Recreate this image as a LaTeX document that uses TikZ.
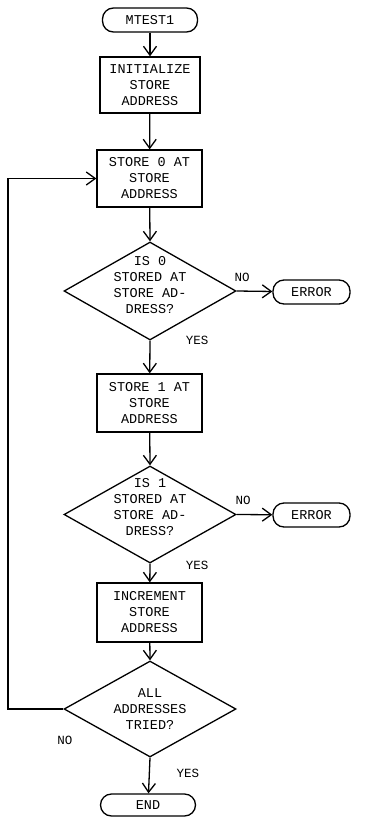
\documentclass[tikz,border=0pt]{standalone}
\usepackage{fontspec}
\setmonofont{Liberation Mono}
\usetikzlibrary{shapes.geometric,arrows.meta}
\begin{document}
\begin{tikzpicture}[x=1pt,y=-1pt,
 every node/.style={font=\ttfamily\fontsize{13.5}{16}\selectfont},
 term/.style={draw, line width=1.3pt, rounded corners=11pt, minimum width=95pt, minimum height=24pt, inner sep=0pt},
 procbox/.style={draw, line width=1.3pt, minimum width=105pt, minimum height=57pt, inner sep=0pt, align=center},
 decis/.style={draw, diamond, line width=1.3pt, minimum width=172pt, minimum height=98pt, inner sep=0pt},
 dtext/.style={align=center, inner sep=0pt},
 lbl/.style={inner sep=0pt, font=\ttfamily\fontsize{12.5}{14}\selectfont},
 flow/.style={line width=1.3pt, -{Straight Barb[length=9pt,width=13pt,line width=1.3pt]}}
]
\useasboundingbox (0,0) rectangle (365,817);
\node[term] (start) at (150,20) {MTEST1};
\node[procbox, minimum width=100pt, minimum height=56pt] (init) at (150,85) {INITIALIZE\\STORE\\ADDRESS};
\node[procbox] (st0) at (149.5,178.5) {STORE 0 AT\\STORE\\ADDRESS};
\node[decis] (d1) at (150,291) {};
\node[dtext] (t1) at (150,285) {IS 0\\STORED AT\\STORE AD-\\DRESS?};
\node[term, minimum width=77pt] (err1) at (311.5,292) {ERROR};
\node[procbox, minimum height=58pt] (st1) at (149.5,403) {STORE 1 AT\\STORE\\ADDRESS};
\node[decis, minimum height=97pt] (d2) at (150,514.5) {};
\node[dtext] (t2) at (150,507) {IS 1\\STORED AT\\STORE AD-\\DRESS?};
\node[term, minimum width=77pt] (err2) at (311.5,515) {ERROR};
\node[procbox, minimum height=59pt] (inc) at (149.5,612.5) {INCREMENT\\STORE\\ADDRESS};
\node[decis, minimum height=96pt] (d3) at (150,709) {};
\node[dtext] (t3) at (150,709) {ALL\\ADDRESSES\\TRIED?};
\node[term, minimum height=22pt] (end) at (148,805) {END};
\coordinate (lp) at (8,709);
\draw[flow] (start) -- (init);
\draw[flow] (init) -- (st0);
\draw[flow] (st0) -- (d1.north);
\draw[flow] (d1.east) -- (err1);
\draw[flow] (d1.south) -- (st1);
\draw[flow] (st1) -- (d2.north);
\draw[flow] (d2.east) -- (err2);
\draw[flow] (d2.south) -- (inc);
\draw[flow] (inc) -- (d3.north);
\draw[flow] (d3.south) -- (end);
\draw[flow] (d3.west) -- (lp) |- (st0.west);
\node[lbl] (n1) at (242,277) {NO};
\node[lbl] (y1) at (197,340) {YES};
\node[lbl] (n2) at (243,500) {NO};
\node[lbl] (y2) at (197,565) {YES};
\node[lbl] (n3) at (65,740) {NO};
\node[lbl] (y3) at (188,773) {YES};
\end{tikzpicture}
\end{document}
